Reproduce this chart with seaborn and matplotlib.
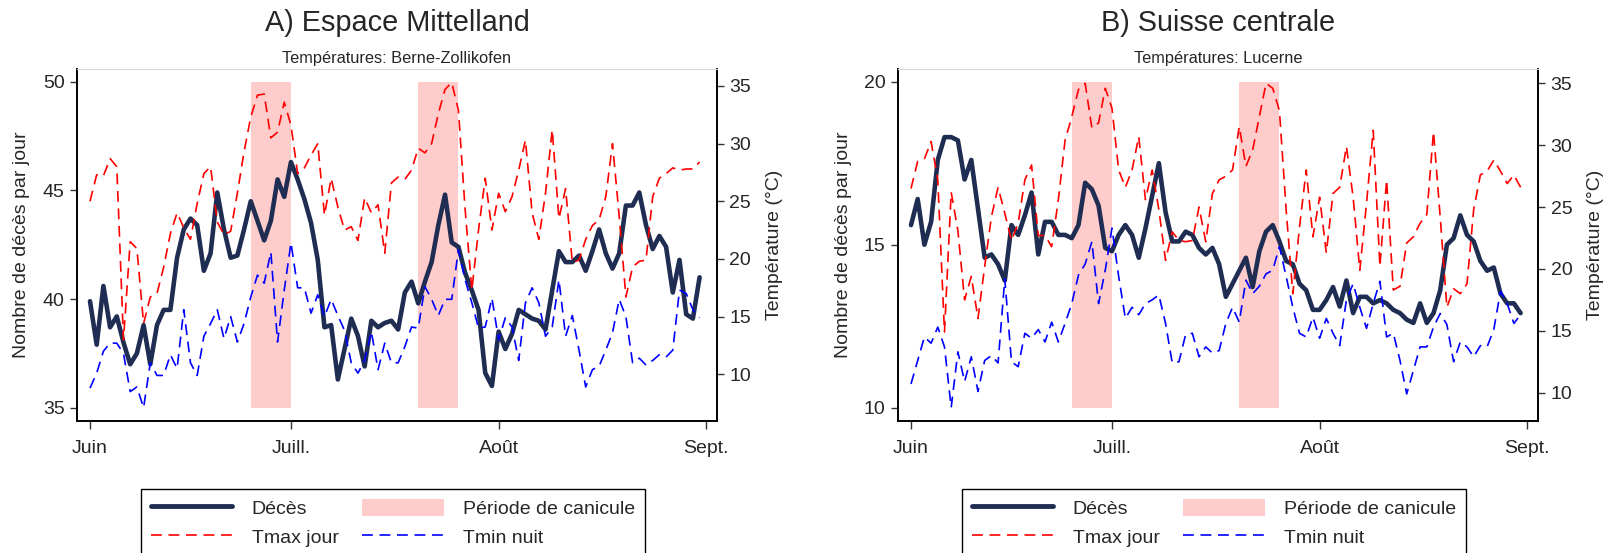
import numpy as np
import pandas as pd
import seaborn as sns
import matplotlib.pyplot as plt
from matplotlib.lines import Line2D
from matplotlib.patches import Patch

# daily values, 1 June - 31 August
days = pd.date_range('2019-06-01', periods=92, freq='D')

deces_mittelland = [39.9, 37.9, 40.6, 38.7, 39.2, 38.0, 37.0, 37.5, 38.8, 37.0,
                    38.8, 39.5, 39.5, 41.9, 43.2, 43.7, 43.4, 41.3, 42.1, 44.9,
                    43.2, 41.9, 42.0, 43.2, 44.5, 43.6, 42.7, 43.6, 45.5, 44.7,
                    46.3, 45.5, 44.6, 43.5, 41.8, 38.7, 38.8, 36.3, 37.7, 39.1,
                    38.3, 36.9, 39.0, 38.7, 38.9, 39.0, 38.6, 40.3, 40.8, 39.8,
                    40.8, 41.7, 43.4, 44.8, 42.6, 42.4, 41.2, 40.4, 39.5, 36.6,
                    36.0, 38.5, 37.7, 38.4, 39.5, 39.3, 39.1, 39.0, 38.6, 40.4,
                    42.2, 41.7, 41.7, 42.0, 41.3, 42.2, 43.2, 42.1, 41.4, 42.1,
                    44.3, 44.3, 44.9, 43.4, 42.3, 42.9, 42.4, 40.3, 41.8, 39.3,
                    39.1, 41.0]
tmax_berne = [25.0, 27.3, 27.2, 28.7, 28.0, 13.0, 21.5, 20.9, 14.4, 16.7,
              17.0, 19.3, 22.2, 24.0, 22.7, 21.7, 24.8, 27.4, 28.0, 23.2,
              22.1, 22.4, 25.7, 29.3, 32.3, 34.2, 34.3, 30.5, 31.0, 33.6,
              31.6, 27.4, 27.9, 29.0, 30.0, 23.8, 27.0, 24.5, 22.5, 22.8,
              21.6, 25.3, 24.0, 24.7, 20.5, 26.6, 27.1, 26.9, 27.7, 29.6,
              29.2, 30.0, 32.6, 34.7, 35.3, 32.9, 24.3, 17.3, 22.5, 27.0,
              22.5, 25.7, 24.1, 25.4, 27.7, 30.3, 24.0, 21.7, 25.7, 31.2,
              23.5, 26.1, 19.7, 19.9, 21.7, 22.9, 23.4, 25.4, 30.0, 23.7,
              16.7, 19.3, 19.8, 19.9, 25.4, 27.0, 27.4, 27.9, 27.7, 27.8,
              27.8, 28.4]
tmin_berne = [8.8, 10.1, 12.0, 12.7, 12.7, 11.8, 8.5, 8.9, 7.1, 11.0,
              9.9, 9.9, 11.7, 10.5, 15.6, 11.0, 9.9, 13.3, 14.4, 15.6,
              13.1, 15.0, 12.8, 14.4, 16.7, 18.6, 17.9, 20.6, 12.8, 17.3,
              21.4, 17.5, 17.5, 15.3, 16.9, 15.0, 16.5, 15.1, 13.8, 11.0,
              10.1, 11.2, 13.7, 10.4, 12.7, 11.0, 11.0, 12.4, 14.1, 14.0,
              17.6, 16.5, 15.1, 16.5, 16.5, 20.8, 18.2, 16.2, 14.0, 14.1,
              16.6, 13.0, 14.9, 14.1, 11.2, 16.2, 17.5, 16.2, 13.3, 14.1,
              18.2, 13.3, 15.1, 12.1, 8.9, 10.4, 10.7, 12.1, 13.6, 16.5,
              15.0, 11.0, 11.4, 10.8, 11.2, 11.7, 11.5, 12.1, 17.3, 17.0,
              15.6, 14.9]

deces_centrale = [15.6, 16.4, 15.0, 15.7, 17.6, 18.3, 18.3, 18.2, 17.0, 17.6,
                  16.1, 14.6, 14.7, 14.4, 13.9, 15.6, 15.3, 15.9, 16.6, 14.7,
                  15.7, 15.7, 15.3, 15.3, 15.2, 15.6, 16.9, 16.7, 16.2, 14.9,
                  14.8, 15.3, 15.6, 15.3, 14.6, 15.5, 16.5, 17.5, 16.0, 15.1,
                  15.1, 15.4, 15.3, 14.9, 14.7, 14.9, 14.4, 13.4, 13.8, 14.2,
                  14.6, 13.7, 14.8, 15.4, 15.6, 15.1, 14.5, 14.4, 13.8, 13.6,
                  13.0, 13.0, 13.3, 13.7, 13.1, 13.9, 12.9, 13.4, 13.4, 13.2,
                  13.3, 13.2, 13.0, 12.9, 12.7, 12.6, 13.2, 12.6, 12.9, 13.6,
                  15.0, 15.2, 15.9, 15.3, 15.1, 14.5, 14.2, 14.3, 13.5, 13.2,
                  13.2, 12.9]
tmax_lucerne = [26.5, 28.7, 28.9, 30.3, 27.2, 14.9, 26.2, 23.1, 17.5, 19.4,
                16.0, 20.2, 24.2, 26.6, 24.5, 22.3, 23.7, 27.2, 28.4, 22.7,
                22.7, 21.8, 25.6, 30.4, 32.3, 34.5, 35.0, 31.4, 31.8, 34.6,
                33.0, 28.0, 26.6, 28.0, 30.7, 25.6, 28.0, 24.8, 20.7, 23.0,
                22.3, 22.2, 22.3, 25.0, 22.2, 26.1, 27.2, 27.5, 28.0, 31.5,
                28.3, 29.6, 32.3, 35.0, 34.6, 32.8, 24.8, 18.0, 23.4, 28.0,
                22.6, 25.8, 21.3, 26.1, 26.6, 29.9, 25.8, 19.9, 25.3, 31.2,
                20.2, 27.2, 18.3, 18.6, 22.1, 22.6, 23.7, 24.4, 31.1, 24.2,
                16.9, 18.4, 18.0, 18.8, 24.8, 27.6, 27.9, 28.8, 27.9, 26.9,
                27.6, 26.6]
tmin_lucerne = [10.7, 12.6, 14.5, 14.0, 15.3, 13.7, 8.8, 13.3, 10.9, 12.9,
                10.1, 12.6, 13.0, 12.4, 19.2, 12.5, 12.1, 14.8, 14.4, 15.1,
                14.1, 15.7, 14.1, 15.6, 17.2, 19.5, 20.4, 22.2, 17.2, 19.9,
                23.3, 19.4, 16.0, 16.9, 16.3, 17.2, 17.5, 17.9, 15.6, 12.4,
                12.5, 14.7, 14.8, 12.9, 13.7, 13.2, 13.4, 15.6, 16.9, 15.7,
                19.1, 18.0, 18.6, 19.6, 19.9, 21.8, 19.4, 16.9, 14.8, 14.5,
                16.1, 14.4, 16.0, 14.8, 13.8, 17.5, 18.8, 16.9, 15.2, 17.2,
                19.0, 14.5, 14.8, 12.6, 9.9, 11.8, 13.7, 13.7, 15.3, 16.4,
                15.5, 12.5, 14.1, 13.7, 12.9, 13.8, 13.7, 15.1, 18.2, 17.2,
                15.6, 16.3]

canicule_debut = ['2019-06-25', '2019-07-20']
canicule_fin = ['2019-07-01', '2019-07-26']
mois_ticks = ['2019-06-01', '2019-07-01', '2019-08-01', '2019-09-01']
mois_labels = ['Juin', 'Juill.', 'Août', 'Sept.']

navy = '#1f2d52'
pink = '#ffcccc'

sns.set_style('ticks')
plt.rcParams['font.family'] = ['Liberation Sans', 'DejaVu Sans']

W, H = 1604, 553
fig = plt.figure(figsize=(W / 100, H / 100), dpi=100)


def panel(left, deces, tmax, tmin, titre, soustitre, ylim, yticks, tlim, rlab_x, llab_x):
    ax = fig.add_axes([left / W, (H - 421) / H, 640 / W, 352 / H])
    # heat-wave periods
    for d0, d1 in zip(canicule_debut, canicule_fin):
        ax.fill_between([pd.Timestamp(d0), pd.Timestamp(d1)], yticks[0], yticks[-1],
                        color=pink, lw=0, zorder=1)
    sns.lineplot(x=days, y=deces, ax=ax, color=navy, lw=3.3, zorder=3)
    ax2 = ax.twinx()
    sns.lineplot(x=days, y=tmax, ax=ax2, color='red', lw=1.2, linestyle=(0, (6.5, 4)))
    sns.lineplot(x=days, y=tmin, ax=ax2, color='blue', lw=1.2, linestyle=(0, (6.5, 4)))

    x0 = pd.Timestamp('2019-06-01')
    ax.set_xlim(x0 - pd.Timedelta(days=1.94), x0 + pd.Timedelta(days=93.6))
    ax.set_ylim(*ylim)
    ax.set_yticks(yticks)
    ax2.set_ylim(*tlim)
    ax2.set_yticks([10, 15, 20, 25, 30, 35])
    ax.set_xticks([pd.Timestamp(t) for t in mois_ticks])
    ax.set_xticklabels(mois_labels)
    ax.set_xlabel('')
    ax.set_ylabel('Nombre de décès par jour', fontsize=14)
    ax2.set_ylabel('Température (°C)', fontsize=14)
    ax.yaxis.set_label_coords(llab_x, 0.5)
    ax2.yaxis.set_label_coords(rlab_x, 0.5)

    for a in (ax, ax2):
        a.tick_params(labelsize=14, length=5, width=1, color='#333333', direction='out')
        for s in a.spines.values():
            s.set_linewidth(1.2)
            s.set_color('black')
            s.set_visible(True)
        a.spines['top'].set_color('#d8d8d8')
        a.spines['top'].set_linewidth(0.8)
    ax.tick_params(axis='y', pad=4)
    ax2.tick_params(axis='y', pad=4)
    ax.tick_params(axis='x', length=6, pad=8)

    cx = (left + 320) / W
    fig.text(cx, (H - 23) / H, titre, ha='center', va='center', fontsize=20.8)
    fig.text(cx, (H - 58) / H, soustitre, ha='center', va='center', fontsize=11.8)

    handles = [Line2D([], [], color=navy, lw=3.5),
               Line2D([], [], color='red', lw=1.2, linestyle=(0, (6.5, 4))),
               Patch(facecolor=pink, edgecolor='none'),
               Line2D([], [], color='blue', lw=1.2, linestyle=(0, (6.5, 4)))]
    labels = ['Décès', 'Tmax jour', 'Période de canicule', 'Tmin nuit']
    leg = fig.legend(handles, labels, ncol=2, loc='upper left',
                     bbox_to_anchor=((left + 64) / W, (H - 489) / H),
                     fontsize=14, frameon=True, fancybox=False, framealpha=1,
                     edgecolor='black', handlelength=4.2, handleheight=1.0,
                     handletextpad=1.0, columnspacing=1.2, labelspacing=0.5,
                     borderpad=0.5, borderaxespad=0)
    leg.get_frame().set_linewidth(1.0)


panel(77, deces_mittelland, tmax_berne, tmin_berne, 'A) Espace Mittelland',
      'Températures: Berne-Zollikofen', (34.39, 50.58), [35, 40, 45, 50],
      (5.95, 36.47), 1.076, -0.074)
panel(898, deces_centrale, tmax_lucerne, tmin_lucerne, 'B) Suisse centrale',
      'Températures: Lucerne', (9.59, 20.39), [10, 15, 20],
      (7.71, 36.16), 1.076, -0.072)

fig.savefig('out.png', dpi=100)
